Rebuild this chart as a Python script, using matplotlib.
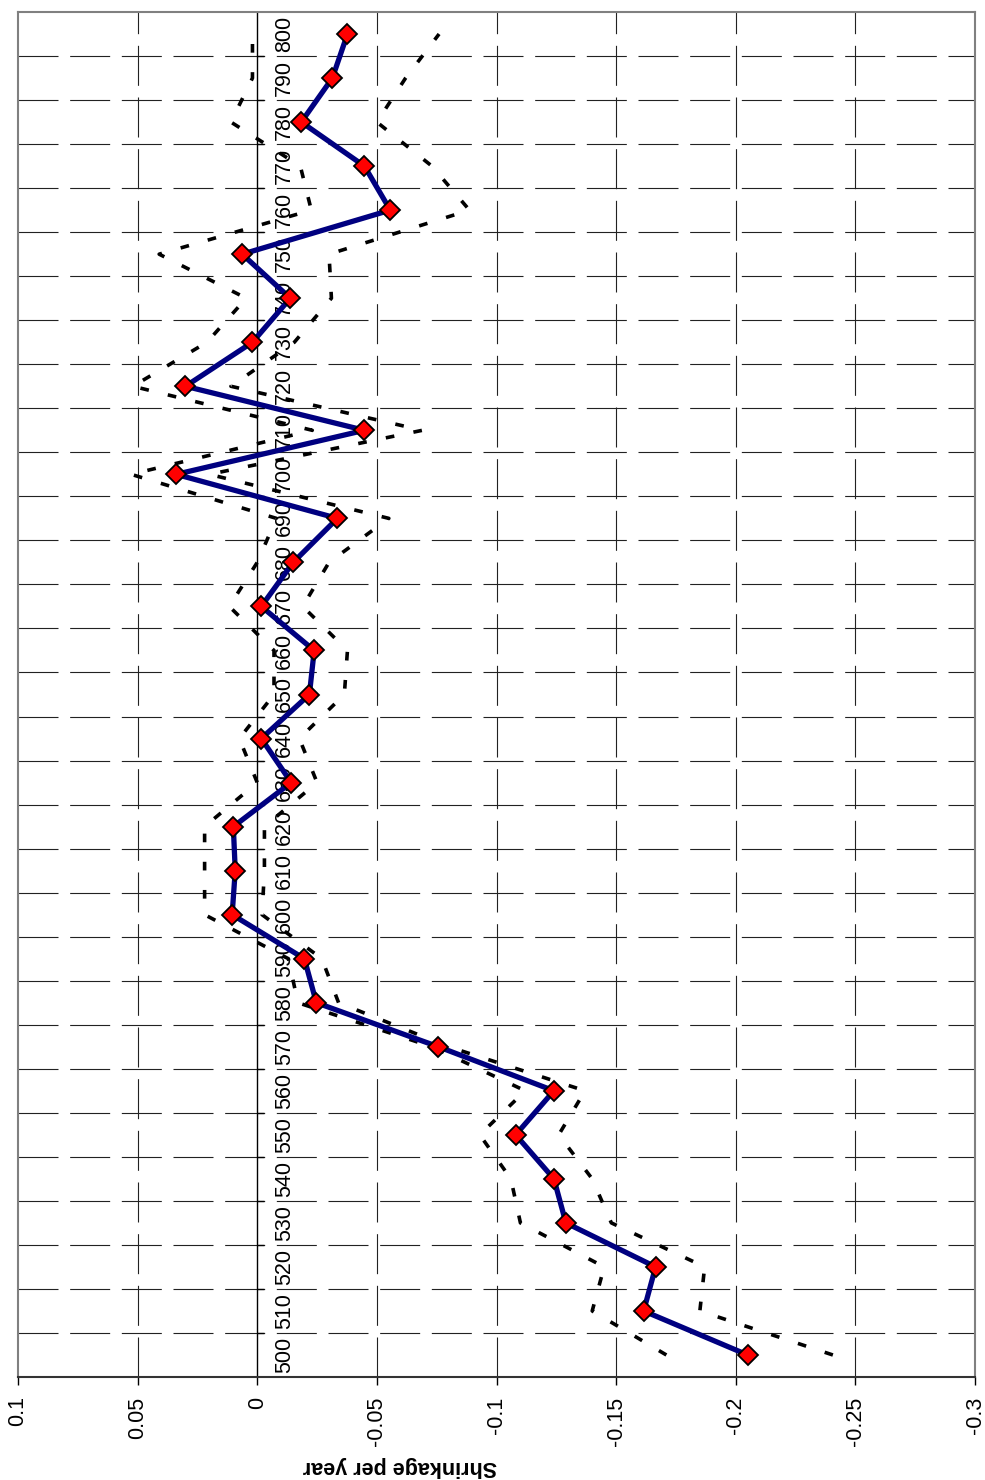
import matplotlib
matplotlib.use("Agg")
import matplotlib.pyplot as plt
import matplotlib.markers as mmarkers
import numpy as np

plt.rcParams["font.family"] = ["Liberation Sans", "DejaVu Sans"]

# categories (bottom to top in the rotated chart)
categories = [500, 510, 520, 530, 540, 550, 560, 570, 580, 590,
              600, 610, 620, 630, 640, 650, 660, 670, 680, 690,
              700, 710, 720, 730, 740, 750, 760, 770, 780, 790, 800]

shrinkage = [-0.205, -0.1615, -0.1665, -0.129, -0.124, -0.108, -0.124, -0.0757,
             -0.0247, -0.0197, 0.0105, 0.0092, 0.010, -0.0142, -0.0017, -0.0218,
             -0.0238, -0.0017, -0.015, -0.0335, 0.0339, -0.0448, 0.030, 0.002,
             -0.0138, 0.0063, -0.0556, -0.0448, -0.0184, -0.0314, -0.0377]

upper = [-0.171, -0.140, -0.145, -0.110, -0.106, -0.093, -0.112, -0.073,
         -0.017, -0.013, 0.022, 0.022, 0.022, 0.000, 0.0075, -0.007,
         -0.007, 0.0117, 0.000, -0.008, 0.0527, -0.023, 0.052, 0.021,
         0.0046, 0.041, -0.0226, -0.018, 0.011, 0.002, 0.002]

lower = [-0.2406, -0.185, -0.187, -0.148, -0.140, -0.126, -0.137, -0.080,
         -0.034, -0.027, -0.002, -0.003, -0.003, -0.025, -0.0176, -0.0364,
         -0.0377, -0.019, -0.030, -0.055, 0.020, -0.069, 0.011, -0.0155,
         -0.031, -0.030, -0.0887, -0.073, -0.050, -0.062, -0.076]

value_ticks = [0.1, 0.05, 0, -0.05, -0.1, -0.15, -0.2, -0.25, -0.3]
value_labels = ["0.1", "0.05", "0", "-0.05", "-0.1", "-0.15", "-0.2", "-0.25", "-0.3"]

W, H = 985, 1480
fig = plt.figure(figsize=(W / 100, H / 100), dpi=100)
ax = fig.add_axes([18 / W, (H - 1377) / H, 957 / W, 1365 / H])

pos = np.arange(len(categories))
bounds = np.arange(len(categories) - 1) + 0.5

grid_kw = dict(color="#222222", lw=0.8, dashes=(36, 10.5), zorder=1)
for v in value_ticks[1:-1]:
    if v == 0:
        continue
    ax.axvline(v, **grid_kw)
for b in bounds:
    ax.axhline(b, **grid_kw)

# category axis at zero
ax.axvline(0, color="black", lw=1.0, zorder=2)
ax.plot(np.zeros(len(bounds)), bounds, ls="none", marker=mmarkers.TICKRIGHT,
        ms=5, mew=1.0, color="black", zorder=2)
for p, c in zip(pos, categories):
    ax.annotate(str(c), (0, p), xytext=(17, 0), textcoords="offset pixels",
                rotation=90, ha="left", va="center", fontsize=15.5, zorder=3)

dash_kw = dict(color="black", lw=2.6, dashes=(2.4, 5.4), zorder=4)
ax.plot(upper, pos, **dash_kw)
ax.plot(lower, pos, **dash_kw)

ax.plot(shrinkage, pos, color="#000080", lw=3.8, zorder=5,
        marker="D", ms=10.5, mfc="#ff0000", mec="black", mew=1.3)

ax.set_xlim(0.1, -0.3)
ax.set_ylim(-0.5, len(categories) - 0.5)
ax.set_xticks(value_ticks)
ax.set_xticklabels(value_labels, rotation=90, fontsize=15.5)
ax.tick_params(axis="x", direction="out", length=6, width=1, pad=8)
ax.set_yticks([])

for side in ("top", "right", "left"):
    ax.spines[side].set_color("#808080")
    ax.spines[side].set_linewidth(1.5)
ax.spines["bottom"].set_color("#333333")
ax.spines["bottom"].set_linewidth(1.5)

fig.text(400 / W, 1 - 1466 / H, "Shrinkage per year", rotation=180,
         ha="center", va="center", fontsize=15.5, fontweight="bold")

fig.savefig("out.png", dpi=100, facecolor="white")
